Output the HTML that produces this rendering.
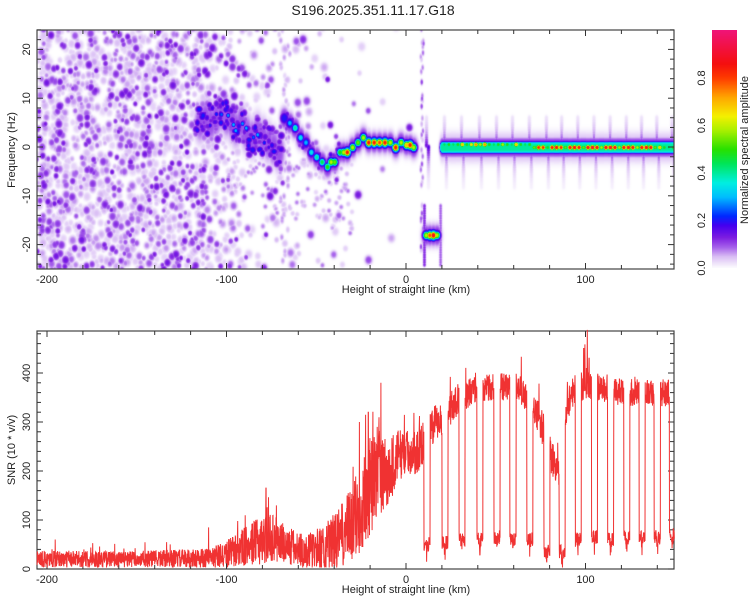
<!DOCTYPE html>
<html><head><meta charset="utf-8">
<style>
html,body{margin:0;padding:0;background:#fff;}
#wrap{position:relative;width:750px;height:600px;overflow:hidden;font-family:"Liberation Sans",sans-serif;}
canvas{position:absolute;}
svg{position:absolute;left:0;top:0;}
text{font-family:"Liberation Sans",sans-serif;fill:#222;}
</style></head>
<body>
<div id="wrap">
<canvas id="spec" width="637" height="239" style="left:37px;top:30px"></canvas>
<canvas id="cbar" width="25" height="238" style="left:712px;top:30px"></canvas>
<svg id="svg" width="750" height="600">
<text x="373" y="15" text-anchor="middle" font-size="14">S196.2025.351.11.17.G18</text>
<text x="406" y="293" text-anchor="middle" font-size="11">Height of straight line (km)</text>
<text x="406" y="593" text-anchor="middle" font-size="11">Height of straight line (km)</text>
<text transform="translate(15,150) rotate(-90)" text-anchor="middle" font-size="11">Frequency (Hz)</text>
<text transform="translate(15,450) rotate(-90)" text-anchor="middle" font-size="11">SNR (10 * v/v)</text>
<text transform="translate(748,150) rotate(-90)" text-anchor="middle" font-size="11">Normalized spectral amplitude</text>
<g id="axes"></g>
<polyline id="snr" fill="none" stroke="#f03232" stroke-width="1"/>
</svg>
</div>
<script>
// ---- data ----
const xTicks = [-200,-180,-160,-140,-120,-100,-80,-60,-40,-20,0,20,40,60,80,100,120,140];
const xLabels = [-200,-100,0,100];
const fLabels = [-20,-10,0,10,20];
const snrLabels = [0,100,200,300,400];
const cbLabels = ["0.0","0.2","0.4","0.6","0.8"];
// ridge trace (height km, frequency Hz, amplitude)
const ridgeH = [-115,-112,-109,-106,-103,-100,-97,-95,-92,-89,-86,-83,-80,-77,-74,-71,-68,-65,-62,-59,-56,-53,-50,-47,-44,-42,-40,-37,-35,-33,-30,-27,-24,-21,-18,-15,-12,-9,-6,-3,0,2,4,11,13,15,17];
const ridgeF = [5,6,5,6,7,6,5,4,5,3,2,3,2,1,0,-1,6,5,4,2,1,-1,-2,-3,-4,-3,-3,-1,-1,-1,0,1,2,1,1,1,1,1,0,1,0.5,0.5,0,-18,-18,-18,-18];
const ridgeA = [0.12,0.15,0.2,0.22,0.25,0.28,0.3,0.3,0.28,0.3,0.25,0.3,0.22,0.18,0.15,0.12,0.15,0.3,0.4,0.35,0.3,0.35,0.4,0.45,0.5,0.6,0.55,0.5,0.6,0.85,0.6,0.55,0.6,0.85,0.85,0.8,0.85,0.6,0.85,0.6,0.7,0.85,0.6,0.6,0.8,0.9,0.6];
// flat band at 0 Hz (height km, amplitude)
const bandH = [20,22.5,25,27.5,30,32.5,35,37.5,40,42.5,45,47.5,50,52.5,55,57.5,60,62.5,65,67.5,70,72.5,75,77.5,80,82.5,85,87.5,90,92.5,95,97.5,100,102.5,105,107.5,110,112.5,115,117.5,120,122.5,125,127.5,130,132.5,135,137.5,140,142.5,145,147.5];
const bandA = [0.45,0.5,0.45,0.5,0.7,0.5,0.65,0.75,0.6,0.75,0.5,0.45,0.5,0.6,0.5,0.45,0.7,0.5,0.45,0.5,0.55,0.85,0.85,0.5,0.88,0.9,0.85,0.55,0.9,0.92,0.9,0.55,0.92,0.95,0.92,0.6,0.92,0.95,0.92,0.6,0.9,0.92,0.9,0.6,0.9,0.92,0.9,0.55,0.7,0.5,0.45,0.5];
// dropout positions (km) — streaks in spectrum, dips in SNR
const dipH = [11.7,21.7,31.2,41.2,50.7,59.6,69,78.5,87,96,105,114,123,131.5,140,148.5];
const dipSNR = [50,55,60,60,65,60,60,35,35,60,65,60,65,65,65,70];
// SNR envelope knots
const snrKnotH = [-206,-150,-110,-100,-90,-80,-75,-65,-55,-45,-38,-30,-25,-20,-15,-10,-5,0,5,10,15,20,25,30,35,40,50,60,65,70,75,80,85,88,92,100,105,120,150];
const snrKnotV = [20,20,22,30,45,60,65,45,35,45,60,90,130,170,200,190,230,240,235,260,290,310,330,350,360,370,370,375,360,340,300,240,200,300,360,380,370,360,360];
const snrKnotAmp = [17,17,20,28,40,50,50,40,35,50,60,80,100,100,90,75,55,45,45,45,40,38,35,32,30,28,28,28,30,30,35,40,35,40,32,32,28,28,28];
// isolated SNR spikes (height km, value)
const spikeH = [-110,-78,-26,-21,-16,-14,10,88,99,101,102];
const spikeV = [85,165,300,320,290,380,330,420,450,488,430];
// background noise density (per 10 km bin starting -206)
const noiseDensity = [1,1,1,1,1,1,1,1,0.95,0.8,0.55,0.3,0.2,0.13,0.12,0.12,0.1,0.05,0.03,0.02,0.01,0,0,0,0,0,0,0,0,0,0,0,0,0,0,0,0];

// ---- scales ----
const X0=37,X1=674,T0=30,T1=269,B0=331,B1=569;
const xs = h => 406 + h*1.795;
const yf = f => 147 - f*4.88;
const ys = v => 569 - v*0.49;

// seeded PRNG for texture only
let seed = 12345;
function rnd(){ seed = (seed*1664525 + 1013904223) >>> 0; return seed/4294967296; }

// colormap
const stops = [[0,255,255,255],[0.02,240,230,251],[0.05,218,190,245],[0.09,165,95,235],[0.13,125,30,225],[0.18,70,0,240],[0.22,0,40,255],[0.3,0,190,255],[0.36,0,240,225],[0.44,0,230,90],[0.5,40,225,0],[0.58,170,240,0],[0.64,245,240,0],[0.72,255,165,0],[0.8,255,60,0],[0.86,245,15,15],[1,240,20,120]];
function cmap(v){
  v=Math.max(0,Math.min(1,v));
  for(let i=1;i<stops.length;i++){ if(v<=stops[i][0]){ const a=stops[i-1],b=stops[i],t=(v-a[0])/(b[0]-a[0]); return [a[1]+(b[1]-a[1])*t,a[2]+(b[2]-a[2])*t,a[3]+(b[3]-a[3])*t]; } }
  return [240,20,120];
}

// ---- spectrogram ----
const W=637,H=239;
const field = new Float32Array(W*H);
function stamp(px,py,amp,sx,sy,p){
  p=p||2;
  const rx=Math.ceil(sx*2.5), ry=Math.ceil(sy*2.5);
  for(let y=Math.floor(py-ry);y<=py+ry;y++){ if(y<0||y>=H) continue;
    for(let x=Math.floor(px-rx);x<=px+rx;x++){ if(x<0||x>=W) continue;
      const dx=Math.abs(x-px)/sx, dy=Math.abs(y-py)/sy;
      const d=Math.sqrt(dx*dx+dy*dy);
      const v=amp*Math.exp(-0.5*Math.pow(d,p));
      const k=y*W+x; if(v>field[k]) field[k]=v; } }
}
// noise blobs
for(let b=0;b<noiseDensity.length;b++){
  const d=noiseDensity[b]; const n=Math.round(d*170);
  for(let i=0;i<n;i++){
    const h=-206+b*10+rnd()*10, f=-25+rnd()*50;
    const a=0.035+Math.pow(rnd(),2.5)*0.11;
    const s=1.8+rnd()*1.4;
    stamp(xs(h)-X0, yf(f)-T0, a, s, s*1.2, 3);
  }
}
// vertical light streaks near -68 and +8
for(let i=0;i<60;i++){ const f=-25+rnd()*50; stamp(xs(-68+rnd()*6-3)-X0,yf(f)-T0,0.03+rnd()*0.04,1.6,2.5,3); }
for(let i=0;i<45;i++){ const f=-25+rnd()*50; stamp(xs(8+rnd()*1.5)-X0,yf(f)-T0,0.03+rnd()*0.08,1.2,2.5,3); }
// scattered below-ridge light blobs
for(let i=0;i<120;i++){ const h=-100+rnd()*70, f=-15+rnd()*15+ (h+60)*-0.1; stamp(xs(h)-X0,yf(f)-T0,0.03+rnd()*0.05,1.8,2,3); }
// ridge
for(let i=0;i<ridgeH.length;i++){
  const px=xs(ridgeH[i])-X0, py=yf(ridgeF[i])-T0;
  const wide = ridgeH[i]<-70;
  if(wide){
    stamp(px,py,0.1,5,16,3);
    for(let j=0;j<9;j++){ stamp(px+(rnd()-0.5)*8,py+(rnd()-0.5)*34,0.08+rnd()*0.13,2+rnd()*1.2,2.4+rnd()*1.2,3); }
    stamp(px+(rnd()-0.5)*3,py+(rnd()-0.5)*10,ridgeA[i],1.8,2.2,3);
  } else {
    stamp(px,py,0.13,4,9,3);
    stamp(px,py,Math.max(0.2,ridgeA[i]*0.4),4,5.5,4);
    stamp(px,py,ridgeA[i],2.6,3.2,3);
    if(ridgeH[i]<-35){ for(let j=0;j<3;j++) stamp(px+(rnd()-0.5)*8,py+(rnd()-0.5)*18,0.1+rnd()*0.08,2,2.5,3); }
  }
}
// band: flat core
for(let i=0;i<bandH.length;i++){
  const px=xs(bandH[i])-X0;
  for(let j=0;j<5;j++){ const sx=px+j; stamp(sx,yf(0)-T0,0.4,2.5,5.5,6); stamp(sx,yf(0)-T0,0.14,3,8.5,4); stamp(sx,yf(0)-T0,0.05,3,13,4); }
  stamp(px+2,yf(bandH[i]<70?0.6:0)-T0,bandA[i],2.2,2.2,3);
}
// streaks at dropout positions
for(let i=0;i<dipH.length;i++){
  const px=xs(dipH[i])-X0;
  for(let f=-8;f<=6;f+=0.5){ const a=0.17*Math.exp(-Math.abs(f)/3); stamp(px+(f>0?-1:1),yf(f)-T0,a,1.5,2.5,3); }
}
// -18 Hz blob vertical bracket
for(let f=-24;f<=-12;f+=0.5){ stamp(xs(10)-X0,yf(f)-T0,0.12,1.3,2,3); stamp(xs(19)-X0,yf(f)-T0,0.09,1.3,2,3); }
const sc=document.getElementById('spec').getContext('2d');
const img=sc.createImageData(W,H);
for(let k=0;k<W*H;k++){ const c=cmap(field[k]); img.data[4*k]=c[0]; img.data[4*k+1]=c[1]; img.data[4*k+2]=c[2]; img.data[4*k+3]=255; }
sc.putImageData(img,0,0);

// colorbar
const cb=document.getElementById('cbar').getContext('2d');
for(let y=0;y<238;y++){ const c=cmap(1-y/238); cb.fillStyle=`rgb(${c[0]|0},${c[1]|0},${c[2]|0})`; cb.fillRect(0,y,25,1); }

// ---- axes ----
const NS='http://www.w3.org/2000/svg';
const axes=document.getElementById('axes');
function el(tag,attrs){ const e=document.createElementNS(NS,tag); for(const k in attrs) e.setAttribute(k,attrs[k]); axes.appendChild(e); return e; }
let r1=el('rect',{x:X0,y:T0,width:X1-X0,height:T1-T0,fill:'none',stroke:'#444','stroke-width':1.2});


let r2=el('rect',{x:X0,y:B0,width:X1-X0,height:B1-B0,fill:'none',stroke:'#444','stroke-width':1.2});


for(const [t0,t1] of [[T0,T1],[B0,B1]]){
  for(const h of xTicks){ const x=xs(h); const L=xLabels.includes(h)?6:4;
    const a=el('line',{x1:x,x2:x,y1:t1,y2:t1-L,stroke:'#333'});
    
    
    const b=el('line',{x1:x,x2:x,y1:t0,y2:t0+L,stroke:'#333'});
    
    
  }
  for(const h of xLabels){ const t=el('text',{x:xs(h),y:t1+14,'text-anchor':'middle','font-size':11}); t.textContent=h;
    
     }
}
for(let f=-24;f<=24;f+=2){ const y=yf(f); const L=(f%10===0)?6:4;
  const a=el('line',{x1:X0,x2:X0+L,y1:y,y2:y,stroke:'#333'});
  
  
  const b=el('line',{x1:X1,x2:X1-L,y1:y,y2:y,stroke:'#333'});
  
  
}
for(const f of fLabels){ const t=el('text',{transform:`translate(30,${yf(f)}) rotate(-90)`,'text-anchor':'middle','font-size':11}); t.textContent=f;
  
   }
for(let v=0;v<=480;v+=20){ const y=ys(v); const L=(v%100===0)?6:4;
  const a=el('line',{x1:X0,x2:X0+L,y1:y,y2:y,stroke:'#333'});
  
  
  const b=el('line',{x1:X1,x2:X1-L,y1:y,y2:y,stroke:'#333'});
  
  
}
for(const v of snrLabels){ const t=el('text',{transform:`translate(30,${ys(v)}) rotate(-90)`,'text-anchor':'middle','font-size':11}); t.textContent=v;
  
   }
for(let i=0;i<cbLabels.length;i++){ const y=268-i*47.5; const t=el('text',{transform:`translate(705,${y}) rotate(-90)`,'text-anchor':'middle','font-size':11}); t.textContent=cbLabels[i];
  
   }

// ---- SNR line ----
function interp(h,xa,ya){ if(h<=xa[0]) return ya[0]; for(let i=1;i<xa.length;i++){ if(h<=xa[i]){ const t=(h-xa[i-1])/(xa[i]-xa[i-1]); return ya[i-1]+(ya[i]-ya[i-1])*t; } } return ya[ya.length-1]; }
const pts=[];
for(let h=-205.5;h<=149.5;h+=0.12){
  let m=interp(h,snrKnotH,snrKnotV), a=interp(h,snrKnotH,snrKnotAmp);
  let v=m+(rnd()-0.5)*2*a;
  if(rnd()<0.04) v+=a*1.8*rnd();
  for(let i=0;i<spikeH.length;i++){ if(Math.abs(h-spikeH[i])<0.07) v=spikeV[i]; }
  for(let i=0;i<dipH.length;i++){ const d=Math.abs(h-dipH[i]); if(d<1.7){ v=dipSNR[i]+(rnd()-0.5)*30 + (d<0.3?-25*rnd():0); } }
  v=Math.max(3,Math.min(488,v));
  pts.push(xs(h).toFixed(1)+','+ys(v).toFixed(1));
}
document.getElementById('snr').setAttribute('points',pts.join(' '));
</script>
</body></html>
